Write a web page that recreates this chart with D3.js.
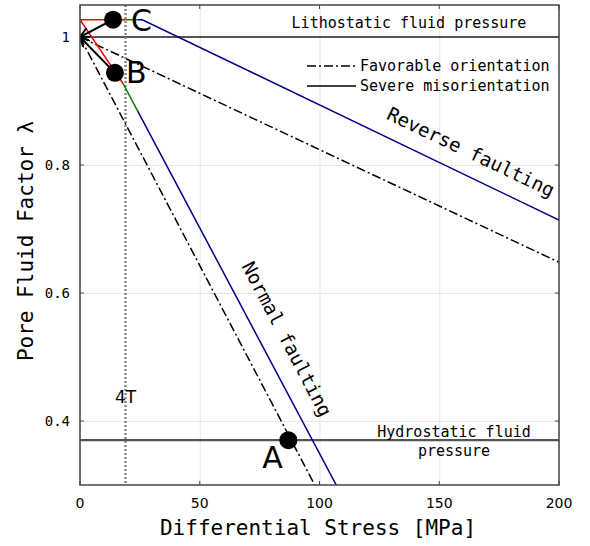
<!DOCTYPE html>
<html>
<head>
<meta charset="utf-8">
<script src="https://cdn.jsdelivr.net/npm/d3@7"></script>
<style>
  body { margin: 0; background: #fff; }
  text { fill: #000; }
</style>
</head>
<body>
<svg id="chart" width="590" height="546"></svg>
<script>
// Axis ticks
var xTicks = [0, 50, 100, 150, 200];
var yTicks = [0.4, 0.6, 0.8, 1];

// Favorable orientation (dash-dot)
var favNormal = [[0, 1], [98, 0.3]];
var favReverse = [[0, 1], [200, 0.648]];

// Severe misorientation, normal faulting (red -> green -> blue)
var normRed = [[0, 1.027], [18, 0.927]];
var normGreen = [[18, 0.927], [24, 0.885]];
var normBlue = [[24, 0.885], [107, 0.3]];

// Severe misorientation, reverse faulting
var revRed = [[0, 1.027], [19, 1.027]];
var revGreen = [[19, 1.027], [24, 1.027]];
var revBlue = [[24, 1.027], [26, 1.027], [200, 0.714]];

// Labelled points
var points = [
  { name: 'A', x: 87, y: 0.37 },
  { name: 'B', x: 14.6, y: 0.944 },
  { name: 'C', x: 13.8, y: 1.027 }
];

var lithostatic = 1;
var hydrostatic = 0.37;
var fourT = 19;

var svg = d3.select('#chart');
// plot frame (note: "top" is a reserved window property, so use prefixed names)
var pLeft = 80, pRight = 559, pTop = 5, pBottom = 485;

var x = d3.scaleLinear().domain([0, 200]).range([pLeft, pRight]);
var y = d3.scaleLinear().domain([0.3, 1.05]).range([pBottom, pTop]);

var line = d3.line()
  .x(function(d) { return x(d[0]); })
  .y(function(d) { return y(d[1]); });

// clip to the plot frame
svg.append('clipPath').attr('id', 'clip')
  .append('rect')
  .attr('x', pLeft).attr('y', pTop)
  .attr('width', pRight - pLeft).attr('height', pBottom - pTop);

// grid
svg.append('g')
  .attr('transform', 'translate(0,' + pBottom + ')')
  .call(d3.axisBottom(x).tickValues(xTicks).tickSize(-(pBottom - pTop)).tickFormat(''))
  .call(function(g) {
    g.select('.domain').remove();
    g.selectAll('line').attr('stroke', '#e6e6e6');
  });
svg.append('g')
  .attr('transform', 'translate(' + pLeft + ',0)')
  .call(d3.axisLeft(y).tickValues(yTicks).tickSize(-(pRight - pLeft)).tickFormat(''))
  .call(function(g) {
    g.select('.domain').remove();
    g.selectAll('line').attr('stroke', '#e6e6e6');
  });

// small inward ticks on all four sides
var tickG = svg.append('g').attr('stroke', '#444');
xTicks.forEach(function(t) {
  tickG.append('line').attr('x1', x(t)).attr('x2', x(t)).attr('y1', pBottom).attr('y2', pBottom - 4);
  tickG.append('line').attr('x1', x(t)).attr('x2', x(t)).attr('y1', pTop).attr('y2', pTop + 4);
});
yTicks.forEach(function(t) {
  tickG.append('line').attr('x1', pLeft).attr('x2', pLeft + 4).attr('y1', y(t)).attr('y2', y(t));
  tickG.append('line').attr('x1', pRight).attr('x2', pRight - 4).attr('y1', y(t)).attr('y2', y(t));
});

// tick labels
svg.append('g').selectAll('text')
  .data(xTicks).enter().append('text')
  .attr('x', function(d) { return x(d); })
  .attr('y', 508)
  .attr('text-anchor', 'middle')
  .style('font-family', 'DejaVu Sans')
  .style('font-size', '14px')
  .text(function(d) { return d; });

svg.append('g').selectAll('text')
  .data(yTicks).enter().append('text')
  .attr('x', 70)
  .attr('y', function(d) { return y(d) + 5; })
  .attr('text-anchor', 'end')
  .style('font-family', 'DejaVu Sans Mono')
  .style('font-size', '14px')
  .text(function(d) { return d === 1 ? '1' : d.toFixed(1); });

var plot = svg.append('g').attr('clip-path', 'url(#clip)');

// lithostatic / hydrostatic lines
[lithostatic, hydrostatic].forEach(function(v) {
  plot.append('line')
    .attr('x1', pLeft).attr('x2', pRight)
    .attr('y1', y(v)).attr('y2', y(v))
    .attr('stroke', '#555').attr('stroke-width', 2.2);
});

// 4T dotted line
plot.append('line')
  .attr('x1', x(fourT)).attr('x2', x(fourT))
  .attr('y1', pTop).attr('y2', pBottom)
  .attr('stroke', '#888').attr('stroke-width', 2.5)
  .attr('stroke-dasharray', '2,2');

// arrowhead marker
svg.append('defs').append('marker')
  .attr('id', 'arrow')
  .attr('viewBox', '0 0 10 10')
  .attr('refX', 10).attr('refY', 5)
  .attr('markerWidth', 5).attr('markerHeight', 5)
  .attr('orient', 'auto')
  .append('path')
  .attr('d', 'M0,0 L10,5 L0,10')
  .attr('fill', 'none').attr('stroke', '#000').attr('stroke-width', 2);

// favorable orientation lines
[favNormal, favReverse].forEach(function(d) {
  plot.append('path').datum(d)
    .attr('d', line)
    .attr('fill', 'none').attr('stroke', '#000').attr('stroke-width', 1.5)
    .attr('stroke-dasharray', '9,3,2,3');
});

// colored segments
var segs = [
  { d: normRed, c: '#ff0000' }, { d: normGreen, c: '#008000' }, { d: normBlue, c: '#00008b' },
  { d: revRed, c: '#ff0000' }, { d: revGreen, c: '#008000' }, { d: revBlue, c: '#00008b' }
];
segs.forEach(function(s) {
  plot.append('path').datum(s.d)
    .attr('d', line)
    .attr('fill', 'none').attr('stroke', s.c).attr('stroke-width', 1.5);
});

// arrows from B and C back to the origin
points.filter(function(p) { return p.name !== 'A'; }).forEach(function(p) {
  plot.append('path').datum([[p.x, p.y], [0, 1]])
    .attr('d', line)
    .attr('fill', 'none').attr('stroke', '#000').attr('stroke-width', 2)
    .attr('marker-end', 'url(#arrow)');
});

// points
plot.selectAll('circle.pt')
  .data(points).enter().append('circle')
  .attr('cx', function(d) { return x(d.x); })
  .attr('cy', function(d) { return y(d.y); })
  .attr('r', 9)
  .attr('fill', '#000');

var labelOffset = { A: [-26, 28], B: [11, 10], C: [18, 11] };
svg.selectAll('text.pt')
  .data(points).enter().append('text')
  .attr('x', function(d) { return x(d.x) + labelOffset[d.name][0]; })
  .attr('y', function(d) { return y(d.y) + labelOffset[d.name][1]; })
  .style('font-family', 'DejaVu Sans')
  .style('font-size', '30px')
  .text(function(d) { return d.name; });

// 4T label
svg.append('text')
  .attr('x', x(fourT)).attr('y', 403)
  .attr('text-anchor', 'middle')
  .style('font-family', 'DejaVu Sans')
  .style('font-size', '17px')
  .text('4T');

var mono = 'DejaVu Sans Mono';

// region labels
svg.append('text')
  .attr('x', 409).attr('y', 28)
  .attr('text-anchor', 'middle')
  .style('font-family', mono).style('font-size', '15px')
  .text('Lithostatic fluid pressure');
svg.append('text')
  .attr('x', 454).attr('y', 437)
  .attr('text-anchor', 'middle')
  .style('font-family', mono).style('font-size', '15px')
  .text('Hydrostatic fluid');
svg.append('text')
  .attr('x', 454).attr('y', 456)
  .attr('text-anchor', 'middle')
  .style('font-family', mono).style('font-size', '15px')
  .text('pressure');

// fault labels
svg.append('text')
  .attr('transform', 'translate(468,158) rotate(25.5)')
  .attr('text-anchor', 'middle')
  .style('font-family', mono).style('font-size', '19px')
  .text('Reverse faulting');
svg.append('text')
  .attr('transform', 'translate(281,342) rotate(62.4)')
  .attr('text-anchor', 'middle')
  .style('font-family', mono).style('font-size', '19px')
  .text('Normal faulting');

// legend
var legend = [
  { label: 'Favorable orientation', dash: '9,3,2,3' },
  { label: 'Severe misorientation', dash: null }
];
legend.forEach(function(l, i) {
  var ly = 66 + i * 20;
  svg.append('line')
    .attr('x1', 307).attr('x2', 356)
    .attr('y1', ly).attr('y2', ly)
    .attr('stroke', '#000').attr('stroke-width', 1.5)
    .attr('stroke-dasharray', l.dash);
  svg.append('text')
    .attr('x', 360).attr('y', ly + 5)
    .style('font-family', mono).style('font-size', '15px')
    .text(l.label);
});

// frame
svg.append('rect')
  .attr('x', pLeft).attr('y', pTop)
  .attr('width', pRight - pLeft).attr('height', pBottom - pTop)
  .attr('fill', 'none').attr('stroke', '#444').attr('stroke-width', 1.5);

// axis titles
svg.append('text')
  .attr('x', 318).attr('y', 535)
  .attr('text-anchor', 'middle')
  .style('font-family', mono).style('font-size', '21px')
  .text('Differential Stress [MPa]');
svg.append('text')
  .attr('transform', 'translate(33,241) rotate(-90)')
  .attr('text-anchor', 'middle')
  .style('font-family', mono).style('font-size', '21px')
  .text('Pore Fluid Factor λ');
</script>
</body>
</html>
